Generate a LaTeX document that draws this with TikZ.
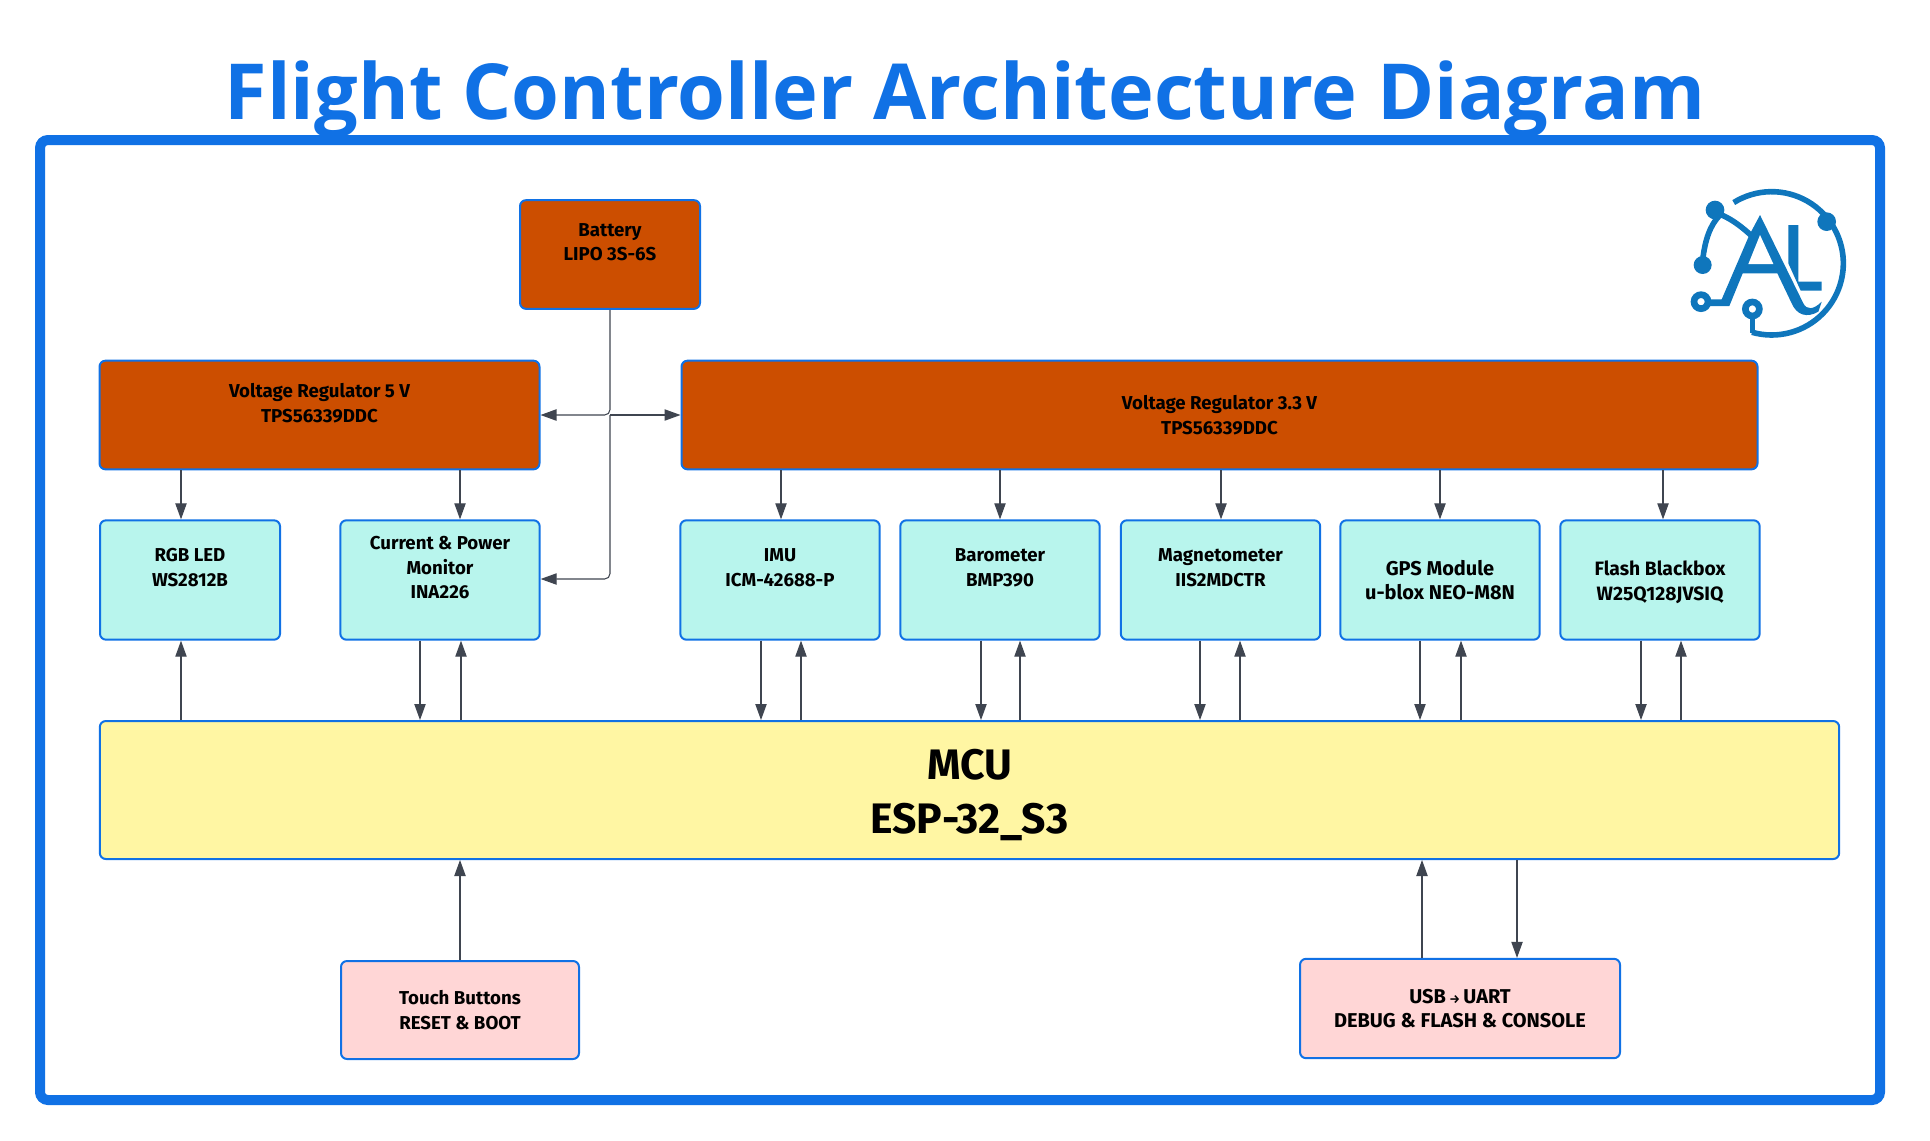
\documentclass[tikz,border=0pt]{standalone}
\usepackage{fontspec}
\setmainfont{Fira Sans}
\newfontfamily\titlefont{Open Sans}
\usetikzlibrary{arrows.meta}
\definecolor{flightblue}{HTML}{1071E5}
\definecolor{powerfill}{HTML}{CC4E00}
\definecolor{sensorfill}{HTML}{B8F5ED}
\definecolor{mcufill}{HTML}{FFF6A3}
\definecolor{userfill}{HTML}{FFD6D6}
\definecolor{wirecol}{HTML}{3F4550}
\definecolor{logoblue}{HTML}{0F76BC}
\tikzset{
  block/.style={draw=flightblue,line width=1.5pt,rounded corners=4.5pt,inner sep=0pt,align=center,
    text=black,font=\fontsize{14}{18.5}\selectfont\bfseries},
  powerblock/.style={block,fill=powerfill},
  sensorblock/.style={block,fill=sensorfill},
  mcublock/.style={block,fill=mcufill,font=\fontsize{32}{40.5}\selectfont\bfseries},
  userblock/.style={block,fill=userfill},
  wire/.style={draw=wirecol,line width=.8pt,-{Triangle[length=12pt,width=8.5pt]}},
  logoline/.style={draw=logoblue,line cap=round,line width=4.2pt},
}
\begin{document}
\begin{tikzpicture}[x=.75pt,y=-.75pt]
\useasboundingbox (0,0) rectangle (1930,1140);
\node[anchor=base,font=\titlefont\fontsize{58}{66}\selectfont\bfseries,text=flightblue] (title) at (965,119) {Flight Controller Architecture Diagram};
\node[draw=flightblue,line width=7.5pt,rounded corners=6pt,minimum width=1380pt,minimum height=720pt,inner sep=0pt] (frame) at (960,620) {};
% power
\node[powerblock,minimum width=135pt,minimum height=81.5pt] (battery) at (610,254.5) {Battery\\LIPO 3S-6S\\~};
\node[powerblock,minimum width=330pt,minimum height=81.5pt] (vreg5) at (319.5,415) {Voltage Regulator 5 V\\TPS56339DDC\\~};
\node[powerblock,minimum width=807pt,minimum height=81.5pt] (vreg33) at (1219.5,415) {Voltage Regulator 3.3 V\\TPS56339DDC};
% sensors
\node[sensorblock,minimum width=135pt,minimum height=89.5pt] (led) at (190,580) {RGB LED\\WS2812B\\~};
\node[sensorblock,minimum width=149.5pt,minimum height=89.5pt] (monitor) at (440,580) {Current \& Power\\Monitor\\INA226\\~};
\node[sensorblock,minimum width=149.5pt,minimum height=89.5pt] (imu) at (780,580) {IMU\\ICM-42688-P\\~};
\node[sensorblock,minimum width=149.5pt,minimum height=89.5pt] (baro) at (1000,580) {Barometer\\BMP390\\~};
\node[sensorblock,minimum width=149.5pt,minimum height=89.5pt] (mag) at (1220.5,580) {Magnetometer\\IIS2MDCTR\\~};
\node[sensorblock,minimum width=149.5pt,minimum height=89.5pt,font=\fontsize{15}{18.5}\selectfont\bfseries] (gps) at (1440,580) {GPS Module\\u-blox NEO-M8N};
\node[sensorblock,minimum width=149.5pt,minimum height=89.5pt,font=\fontsize{14.5}{18.5}\selectfont\bfseries] (flash) at (1660,580) {\rule{0pt}{14pt}Flash Blackbox\\W25Q128JVSIQ};
% mcu
\node[mcublock,minimum width=1304.5pt,minimum height=103.5pt] (mcu) at (969.5,790) {\rule{0pt}{30pt}MCU\\ESP-32\_S3};
% user side
\node[userblock,minimum width=178.5pt,minimum height=73.5pt] (buttons) at (460,1010) {Touch Buttons\\RESET \& BOOT};
\node[userblock,minimum width=240pt,minimum height=74.5pt,font=\fontsize{15}{18.5}\selectfont\bfseries] (usb) at (1460,1008.5) {USB\,{\fontsize{9}{18}\selectfont →}\,UART\\DEBUG \& FLASH \& CONSOLE};
% battery rails
\coordinate (railjoin) at (610,415);
\coordinate (monjoin) at (610,579);
\draw[wire,rounded corners=4pt] (battery.south) -- (railjoin) -- (vreg5.east |- railjoin);
\draw[wire] (railjoin) -- (vreg33.west |- railjoin);
\draw[wire,rounded corners=4pt] (railjoin) -- (monjoin) -- (monitor.east |- monjoin);
% regulators to loads
\draw[wire] (vreg5.south -| 181,0) -- (led.north -| 181,0);
\draw[wire] (vreg5.south -| 460,0) -- (monitor.north -| 460,0);
\foreach \dev/\xx in {imu/781,baro/1000,mag/1221,gps/1440,flash/1663}
  \draw[wire] (vreg33.south -| \xx,0) -- (\dev.north -| \xx,0);
% mcu links
\draw[wire] (mcu.north -| 181,0) -- (led.south -| 181,0);
\foreach \dev/\xa/\xb in {monitor/420/461,imu/761/801,baro/981/1020,mag/1200/1240,gps/1420/1461,flash/1641/1681}{
  \draw[wire] (\dev.south -| \xa,0) -- (mcu.north -| \xa,0);
  \draw[wire] (mcu.north -| \xb,0) -- (\dev.south -| \xb,0);
}
\draw[wire] (buttons.north) -- (mcu.south -| buttons.north);
\draw[wire] (usb.north -| 1422,0) -- (mcu.south -| 1422,0);
\draw[wire] (mcu.south -| 1517,0) -- (usb.north -| 1517,0);
% logo
\begin{scope}[shift={(1640,160)},x=.25pt,y=-.25pt]
\draw[logoline,line cap=butt] plot[domain=122:-106,samples=60] ({395+215*cos(\x)},{310-215*sin(\x)});
\fill[logoblue] (560,185) circle (28) (225,150) circle (28) (188,315) circle (27);
\draw[logoline] (188,300) .. controls (195,240) and (210,195) .. (240,165);
\draw[logoline] (245,165) .. controls (280,180) and (310,205) .. (332,225);
\fill[logoblue] (360,165) -- (490,430) .. controls (500,450) and (520,450) .. (545,425) -- (535,455) .. controls (500,475) and (470,465) .. (455,430) -- (412,340) -- (308,340) -- (268,438) -- (200,438) -- (200,418) -- (245,418) -- (328,225) -- cycle;
\fill[white] (360,225) -- (400,312) -- (325,312) -- cycle;
\fill[logoblue] (445,195) -- (475,195) -- (475,365) -- (545,365) -- (545,392) -- (482,392) -- (445,310) -- cycle;
\draw[logoblue,line width=5pt] (183,425) circle (21) (337,447) circle (21);
\draw[logoline,line cap=butt] (337,470) -- (337,518);
\end{scope}
\end{tikzpicture}
\end{document}
